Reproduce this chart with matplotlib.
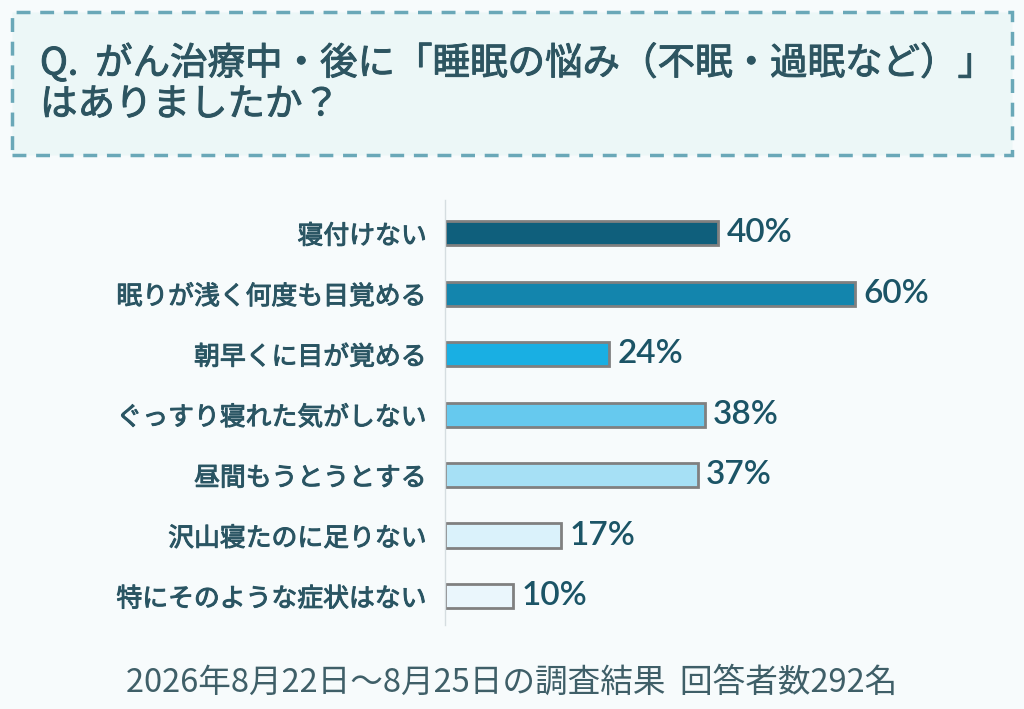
import matplotlib.pyplot as plt
import matplotlib.patheffects as pe
from matplotlib.patches import Rectangle

# data
labels = ["寝付けない", "眠りが浅く何度も目覚める", "朝早くに目が覚める",
          "ぐっすり寝れた気がしない", "昼間もうとうとする",
          "沢山寝たのに足りない", "特にそのような症状はない"]
values = [40, 60, 24, 38, 37, 17, 10]
bar_colors = ["#0f5f7c", "#1385ad", "#19afe3", "#66c9ee", "#a6e0f5", "#daf2fb", "#eaf6fc"]

title_line1 = "Q.  がん治療中・後に「睡眠の悩み（不眠・過眠など）」"
title_line2 = "はありましたか？"
footer = "2026年8月22日～8月25日の調査結果  回答者数292名"

plt.rcParams['font.family'] = ['Noto Sans CJK JP', 'DejaVu Sans']

W, H = 1024, 709
fig = plt.figure(figsize=(W / 100, H / 100), dpi=100)
fig.patch.set_facecolor("#f7fbfc")

title_col = "#2d5561"
label_col = "#2a5563"
# regular weight thickened a little, close to a medium weight
medium = lambda c: [pe.withStroke(linewidth=0.7, foreground=c)]

# title box
box = Rectangle((12 / W, 1 - 155 / H), 1000 / W, 143 / H, transform=fig.transFigure,
                facecolor="#ecf7f7", edgecolor="#6aa8b8", linewidth=2.5,
                linestyle=(0, (4, 2.8)))
fig.patches.append(box)
fig.text(40 / W, 1 - 64 / H, title_line1, fontsize=27, color=title_col,
         va="center", ha="left", path_effects=medium(title_col))
fig.text(40 / W, 1 - 105 / H, title_line2, fontsize=27, color=title_col,
         va="center", ha="left", path_effects=medium(title_col))

# bars
ax = fig.add_axes([445 / W, 1 - 625 / H, 550 / W, 425 / H])
ax.set_facecolor("none")
ypos = list(range(len(labels)))
ax.barh(ypos, values, height=0.4, color=bar_colors, edgecolor="#808080", linewidth=2)
ax.set_xlim(0, 80.5)
ax.set_ylim(6.48, -0.55)
ax.set_yticks(ypos)
ax.set_yticklabels(labels, fontsize=18.6, color=label_col)
for t in ax.get_yticklabels():
    t.set_path_effects(medium(label_col))
ax.tick_params(axis="y", length=0, pad=13)
ax.set_xticks([])
for s in ["top", "right", "bottom"]:
    ax.spines[s].set_visible(False)
ax.spines["left"].set_color("#d5dde0")
ax.spines["left"].set_linewidth(1)

for y, v in zip(ypos, values):
    ax.text(v + 1.2, y, f"{v}%", va="center", ha="left", fontsize=24,
            fontweight="semibold", color="#1b5466", family=["Lato", "DejaVu Sans"])

fig.text(512 / W, 1 - 683 / H, footer, fontsize=23.5, color="#3f5f68",
         ha="center", va="center")

fig.savefig("out.png", dpi=100, facecolor=fig.get_facecolor())
